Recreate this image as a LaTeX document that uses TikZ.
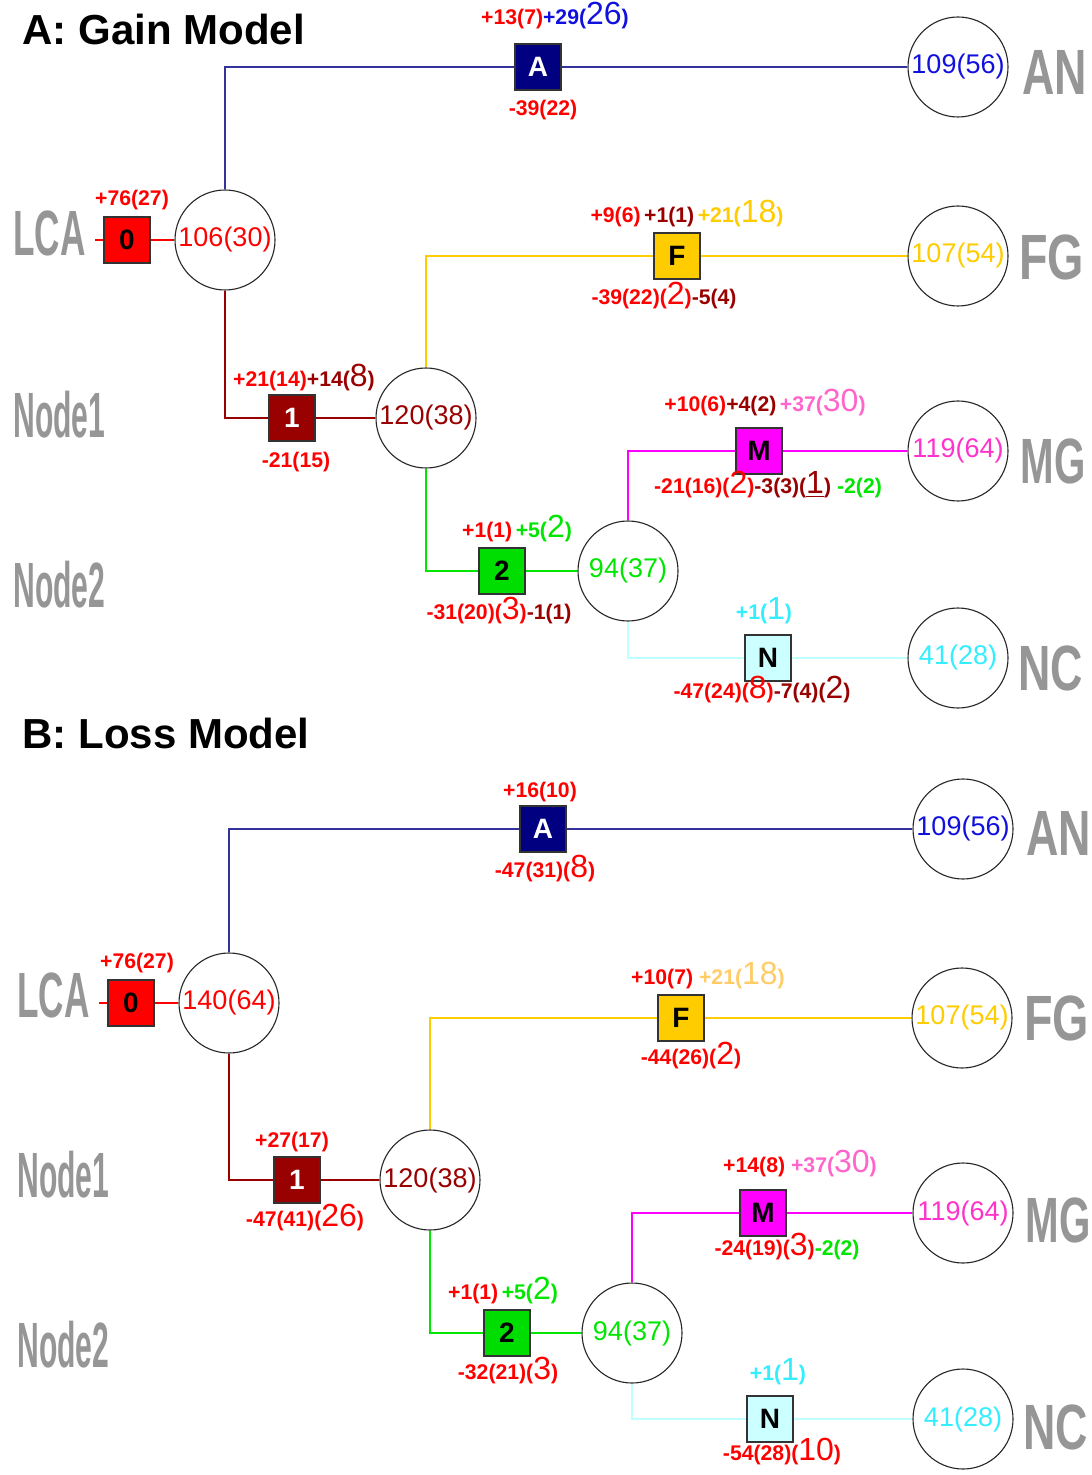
\documentclass[tikz,border=0pt]{standalone}
\usepackage{fontspec}
\setmainfont{Liberation Sans}
\usepackage{graphicx}
\definecolor{cred}{RGB}{255,0,0}
\definecolor{cdred}{RGB}{153,0,0}
\definecolor{cnavy}{RGB}{0,0,128}
\definecolor{cbline}{RGB}{51,51,153}
\definecolor{cblue}{RGB}{17,17,221}
\definecolor{cyel}{RGB}{255,204,0}
\definecolor{cyel2}{RGB}{255,204,102}
\definecolor{cgrn}{RGB}{0,230,0}
\definecolor{cgrnbox}{RGB}{0,221,0}
\definecolor{cmag}{RGB}{255,0,255}
\definecolor{cpink}{RGB}{255,51,204}
\definecolor{cpink2}{RGB}{255,102,204}
\definecolor{ccyan}{RGB}{51,238,255}
\definecolor{clcyan}{RGB}{204,255,255}
\definecolor{clcyanln}{RGB}{190,255,255}
\definecolor{cgrey}{RGB}{150,150,150}
\newcommand{\bigd}[1]{{\mdseries\fontsize{16}{16}\selectfont #1}}
\tikzset{
  boxn/.style={draw=black!80, line width=0.6pt, minimum size=23pt, inner sep=0pt, font=\bfseries\fontsize{14}{14}\selectfont},
  circn/.style={circle, draw=black!85, line width=0.55pt, fill=white, minimum size=50pt, inner sep=0pt, font=\fontsize{13.5}{14}\selectfont},
  lab/.style={anchor=base, inner sep=0pt, font=\bfseries\fontsize{10.6}{11}\selectfont},
  side/.style={anchor=west, text=cgrey, inner sep=0pt, font=\bfseries\fontsize{32}{32}\selectfont},
  ttl/.style={anchor=base west, inner sep=0pt, font=\bfseries\fontsize{21}{21}\selectfont},
  ln/.style={line width=1pt}
}
\begin{document}
\begin{tikzpicture}[x={(0.5pt,0)}, y={(0,-0.5pt)}]
\useasboundingbox (0,0) rectangle (1091,1475);
\clip (0,0) rectangle (1091,1475);
\fill[white] (0,0) rectangle (1091,1475);

% ================= A: Gain Model =================
\node[ttl] (titleA) at (22,45) {A: Gain Model};

\node[side] (sLCAa) at (13,233) {\scalebox{0.55}[1]{LCA}};
\node[side] (sN1a) at (13,415) {\scalebox{0.47}[1]{Node1}};
\node[side] (sN2a) at (13,585) {\scalebox{0.47}[1]{Node2}};
\node[side] (sANa) at (1022,72) {\scalebox{0.7}[1]{AN}};
\node[side] (sFGa) at (1019,257) {\scalebox{0.73}[1]{FG}};
\node[side] (sMGa) at (1020,461) {\scalebox{0.63}[1]{MG}};
\node[side] (sNCa) at (1018,668) {\scalebox{0.7}[1]{NC}};

\coordinate (stubA) at (95,240);
\node[boxn, fill=cred, text=black] (b0a) at (127,240) {0};
\node[circn, text=cred] (LCAa) at (225,240) {106(30)};
\node[boxn, fill=cnavy, text=white] (Aa) at (538,67) {A};
\node[circn, text=cblue] (ANa) at (958,67) {109(56)};
\node[boxn, fill=cdred, text=white] (b1a) at (292,418) {1};
\node[circn, text=cdred] (N1a) at (426,418) {120(38)};
\node[boxn, fill=cyel, text=black] (Fa) at (677,256) {F};
\node[circn, text=cyel] (FGa) at (958,256) {107(54)};
\node[boxn, fill=cgrnbox, text=black] (b2a) at (502,571) {2};
\node[circn, text=cgrn] (N2a) at (628,571) {94(37)};
\node[boxn, fill=cmag, text=black] (Ma) at (759,451) {M};
\node[circn, text=cpink] (MGa) at (958,451) {119(64)};
\node[boxn, fill=clcyan, text=black] (Na) at (768,658) {N};
\node[circn, text=ccyan] (NCa) at (958,658) {41(28)};

\draw[ln, cred] (stubA) -- (b0a.west);
\draw[ln, cred] (b0a.east) -- (LCAa.west);
\draw[ln, cbline] (LCAa.north) |- (Aa.west);
\draw[ln, cbline] (Aa.east) -- (ANa.west);
\draw[ln, cdred] (LCAa.south) |- (b1a.west);
\draw[ln, cdred] (b1a.east) -- (N1a.west);
\draw[ln, cyel] (N1a.north) |- (Fa.west);
\draw[ln, cyel] (Fa.east) -- (FGa.west);
\draw[ln, cgrn] (N1a.south) |- (b2a.west);
\draw[ln, cgrn] (b2a.east) -- (N2a.west);
\draw[ln, cmag] (N2a.north) |- (Ma.west);
\draw[ln, cmag] (Ma.east) -- (MGa.west);
\draw[ln, clcyanln] (N2a.south) |- (Na.west);
\draw[ln, clcyanln] (Na.east) -- (NCa.west);

\node[lab] (l1a) at (132,206) {\textcolor{cred}{+76(27)}};
\node[lab] (l2a) at (555,25) {\textcolor{cred}{+13(7)}\textcolor{cblue}{+29(\bigd{26})}};
\node[lab] (l3a) at (543,116) {\textcolor{cred}{-39(22)}};
\node[lab] (l4a) at (304,387) {\textcolor{cred}{+21(14)}\textcolor{cdred}{+14(\bigd{8})}};
\node[lab] (l5a) at (296,468) {\textcolor{cred}{-21(15)}};
\node[lab] (l6a) at (687,223) {\textcolor{cred}{+9(6)}\,\textcolor{cdred}{+1(1)}\,\textcolor{cyel}{+21(\bigd{18})}};
\node[lab] (l7a) at (664,305) {\textcolor{cred}{-39(22)(\bigd{2})}\textcolor{cdred}{-5(4)}};
\node[lab] (l8a) at (765,412) {\textcolor{cred}{+10(6)}\textcolor{cdred}{+4(2)}\,\textcolor{cpink2}{+37(\bigd{30})}};
\node[lab] (l9a) at (768,494) {\textcolor{cred}{-21(16)(\bigd{2})}\textcolor{cdred}{-3(3)(\underline{\bigd{1}})}\hspace{3pt}\textcolor{cgrn}{-2(2)}};
\node[lab] (l10a) at (517,538) {\textcolor{cred}{+1(1)}\,\textcolor{cgrn}{+5(\bigd{2})}};
\node[lab] (l11a) at (499,619) {\textcolor{cred}{-31(20)(\bigd{3})}\textcolor{cdred}{-1(1)}};
\node[lab] (l12a) at (764,619) {\textcolor{ccyan}{+1(\bigd{1})}};
\node[lab] (l13a) at (762,698) {\textcolor{cred}{-47(24)(\bigd{8})}\textcolor{cdred}{-7(4)(\bigd{2})}};

% ================= B: Loss Model =================
\node[ttl] (titleB) at (22,748) {B: Loss Model};

\node[side] (sLCAb) at (17,995) {\scalebox{0.55}[1]{LCA}};
\node[side] (sN1b) at (17,1175) {\scalebox{0.47}[1]{Node1}};
\node[side] (sN2b) at (17,1345) {\scalebox{0.47}[1]{Node2}};
\node[side] (sANb) at (1026,833) {\scalebox{0.7}[1]{AN}};
\node[side] (sFGb) at (1024,1018) {\scalebox{0.73}[1]{FG}};
\node[side] (sMGb) at (1025,1220) {\scalebox{0.63}[1]{MG}};
\node[side] (sNCb) at (1023,1427) {\scalebox{0.7}[1]{NC}};

\coordinate (stubB) at (99,1003);
\node[boxn, fill=cred, text=black] (b0b) at (131,1003) {0};
\node[circn, text=cred] (LCAb) at (229,1003) {140(64)};
\node[boxn, fill=cnavy, text=white] (Ab) at (543,829) {A};
\node[circn, text=cblue] (ANb) at (963,829) {109(56)};
\node[boxn, fill=cdred, text=white] (b1b) at (297,1180) {1};
\node[circn, text=cdred] (N1b) at (430,1180) {120(38)};
\node[boxn, fill=cyel, text=black] (Fb) at (681,1018) {F};
\node[circn, text=cyel] (FGb) at (962,1018) {107(54)};
\node[boxn, fill=cgrnbox, text=black] (b2b) at (507,1333) {2};
\node[circn, text=cgrn] (N2b) at (632,1333) {94(37)};
\node[boxn, fill=cmag, text=black] (Mb) at (763,1213) {M};
\node[circn, text=cpink] (MGb) at (963,1213) {119(64)};
\node[boxn, fill=clcyan, text=black] (Nb) at (770,1419) {N};
\node[circn, text=ccyan] (NCb) at (963,1419) {41(28)};

\draw[ln, cred] (stubB) -- (b0b.west);
\draw[ln, cred] (b0b.east) -- (LCAb.west);
\draw[ln, cbline] (LCAb.north) |- (Ab.west);
\draw[ln, cbline] (Ab.east) -- (ANb.west);
\draw[ln, cdred] (LCAb.south) |- (b1b.west);
\draw[ln, cdred] (b1b.east) -- (N1b.west);
\draw[ln, cyel] (N1b.north) |- (Fb.west);
\draw[ln, cyel] (Fb.east) -- (FGb.west);
\draw[ln, cgrn] (N1b.south) |- (b2b.west);
\draw[ln, cgrn] (b2b.east) -- (N2b.west);
\draw[ln, cmag] (N2b.north) |- (Mb.west);
\draw[ln, cmag] (Mb.east) -- (MGb.west);
\draw[ln, clcyanln] (N2b.south) |- (Nb.west);
\draw[ln, clcyanln] (Nb.east) -- (NCb.west);

\node[lab] (l1b) at (137,968) {\textcolor{cred}{+76(27)}};
\node[lab] (l2b) at (540,797) {\textcolor{cred}{+16(10)}};
\node[lab] (l3b) at (545,877) {\textcolor{cred}{-47(31)(\bigd{8})}};
\node[lab] (l4b) at (292,1147) {\textcolor{cred}{+27(17)}};
\node[lab] (l5b) at (305,1226) {\textcolor{cred}{-47(41)(\bigd{26})}};
\node[lab] (l6b) at (708,984) {\textcolor{cred}{+10(7)}\hspace{3pt}\textcolor{cyel2}{+21(\bigd{18})}};
\node[lab] (l7b) at (691,1064) {\textcolor{cred}{-44(26)(\bigd{2})}};
\node[lab] (l8b) at (800,1172) {\textcolor{cred}{+14(8)}\hspace{3pt}\textcolor{cpink2}{+37(\bigd{30})}};
\node[lab] (l9b) at (787,1255) {\textcolor{cred}{-24(19)(\bigd{3})}\textcolor{cgrn}{-2(2)}};
\node[lab] (l10b) at (503,1299) {\textcolor{cred}{+1(1)}\,\textcolor{cgrn}{+5(\bigd{2})}};
\node[lab] (l11b) at (508,1379) {\textcolor{cred}{-32(21)(\bigd{3})}};
\node[lab] (l12b) at (778,1380) {\textcolor{ccyan}{+1(\bigd{1})}};
\node[lab] (l13b) at (782,1460) {\textcolor{cred}{-54(28)(\bigd{10})}};
\end{tikzpicture}
\end{document}
